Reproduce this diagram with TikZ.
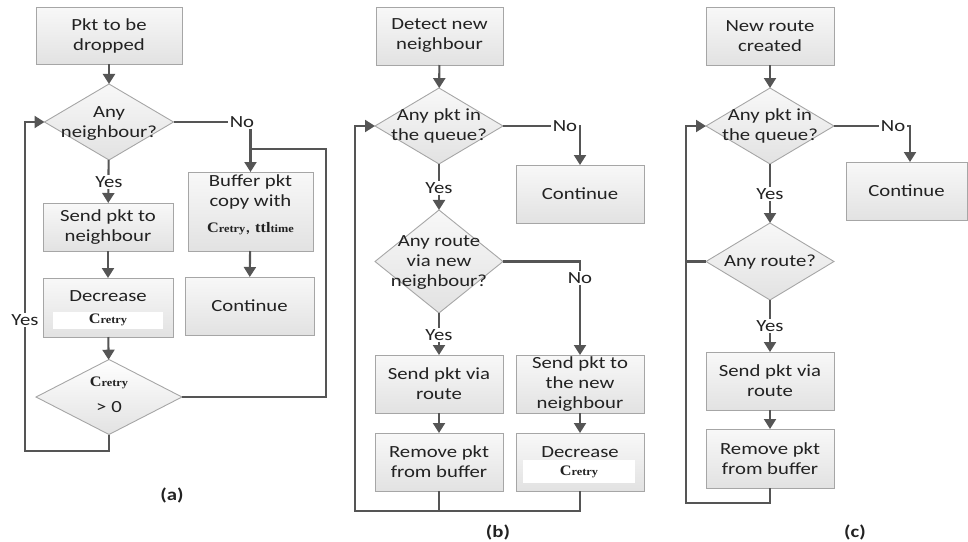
\documentclass[tikz,border=0pt]{standalone}
\usepackage{fontspec}
\setmainfont{Carlito}[FakeStretch=1.22]
\newfontfamily\crfont{Liberation Serif}[FakeStretch=1.12]
\usetikzlibrary{arrows.meta,shapes.geometric}

\definecolor{boxline}{HTML}{A6A6A6}
\definecolor{boxtop}{HTML}{F8F8F8}
\definecolor{boxbot}{HTML}{E2E2E2}
\definecolor{flowc}{HTML}{555555}
\definecolor{txtc}{HTML}{222222}

% C_retry and ttl_time in the bold serif face
\newcommand\Cr{{\crfont\bfseries{\fontsize{14.5}{14.5}\selectfont C}{\fontsize{11}{11}\selectfont retry}}}
\newcommand\TTL{{\crfont\bfseries{\fontsize{14.5}{14.5}\selectfont ttl}{\fontsize{11}{11}\selectfont time}}}
\newcommand\txtfont{\fontsize{17}{20}\selectfont}

\tikzset{
  box/.style={draw=boxline, line width=0.9pt, top color=boxtop, bottom color=boxbot,
    inner sep=0pt, outer sep=0pt, align=center, text=txtc, font=\txtfont},
  dia/.style={diamond, draw=boxline, line width=0.9pt, top color=boxtop, bottom color=boxbot,
    inner sep=0pt, outer sep=0pt},
  txt/.style={align=center, text=txtc, font=\txtfont, inner sep=0pt},
  patch/.style={fill=white, inner sep=0pt, text=txtc},
  conn/.style={draw=flowc, line width=2.1pt},
  flow/.style={conn, -{Triangle[width=12pt,length=10pt]}},
  lbl/.style={fill=white, inner sep=1.5pt, text=txtc, font=\txtfont},
  subcap/.style={text=txtc, font=\txtfont\bfseries}
}

\begin{document}
\begin{tikzpicture}[x=1pt,y=-1pt]
\useasboundingbox (0,0) rectangle (968,541);

% ---------------- (a) packet about to be dropped ----------------
\node[box, minimum width=146pt, minimum height=57pt] (a1) at (109,35.5) {Pkt to be\\dropped};
\node[dia, minimum width=129pt, minimum height=76pt] (a2) at (109,122) {};
\node[txt] (a2t) at (109,124) {Any\\neighbour?};
\node[box, minimum width=130pt, minimum height=48pt] (a3) at (108,227) {Send pkt to\\neighbour};
\node[box, minimum width=130pt, minimum height=59pt] (a4) at (108,307.5) {};
\node[txt] (a4t) at (108,296) {Decrease};
\node[patch, minimum width=110pt, minimum height=17pt] (a4c) at (108,320) {\Cr};
\node[dia, minimum width=146pt, minimum height=75pt, top color=white] (a6) at (109,397) {};
\node[txt] (a6c) at (109,383) {\Cr};
\node[txt] (a6t) at (109,407) {> 0};
\node[box, minimum width=125pt, minimum height=79pt] (a7) at (250.5,211.5) {};
\node[txt] (a7t) at (250.5,192) {Buffer pkt\\copy with};
\node[txt] (a7c) at (250.5,229) {\Cr, \TTL};
\node[box, minimum width=129pt, minimum height=58pt] (a8) at (249.5,306) {Continue};
\node[subcap] (acap) at (172,495) {(a)};

\coordinate (aR) at (326,149);
\coordinate (aJ) at (250,149);
\coordinate (aL) at (25,451);

\draw[flow] (a1) -- (a2);
\draw[flow] (a2) -- (a3);
\draw[flow] (a3) -- (a4);
\draw[flow] (a4) -- (a6);
\draw[flow] (a2.east) -| (a7.north);
\draw[flow] (a7) -- (a8);
\draw[conn] (a6.east) -| (aR) -- (aJ);
\draw[flow] (a6.south) |- (aL) |- (a2.west);
\node[lbl] (aNo) at (242,122) {No};
\node[lbl] (aYes) at (109,182) {Yes};
\node[lbl] (aYes2) at (25,320) {Yes};

% ---------------- (b) new neighbour detected ----------------
\node[box, minimum width=127pt, minimum height=58pt] (b1) at (439.5,36) {Detect new\\neighbour};
\node[dia, minimum width=128pt, minimum height=76pt] (b2) at (439,126) {};
\node[txt] (b2t) at (439,126) {Any pkt in\\the queue?};
\node[box, minimum width=128pt, minimum height=58pt] (b3) at (580,194) {Continue};
\node[dia, minimum width=128pt, minimum height=103pt] (b4) at (439,261.5) {};
\node[txt] (b4t) at (439,263) {Any route\\via new\\neighbour?};
\node[box, minimum width=128pt, minimum height=58pt] (b5) at (439,384) {Send pkt via\\route};
\node[box, minimum width=128pt, minimum height=58pt] (b6) at (580,384) {Send pkt to\\the new\\neighbour};
\node[box, minimum width=128pt, minimum height=58pt] (b7) at (439,462) {Remove pkt\\from buffer};
\node[box, minimum width=128pt, minimum height=58pt] (b8) at (580,462) {};
\node[txt] (b8t) at (580,452) {Decrease};
\node[patch, minimum width=112pt, minimum height=23pt] (b8c) at (579,471.5) {\Cr};
\node[subcap] (bcap) at (498,532) {(b)};

\coordinate (bL) at (355,511);
\coordinate (bM) at (439,511);

\draw[flow] (b1) -- (b2);
\draw[flow] (b2) -- (b4);
\draw[flow] (b2.east) -| (b3.north);
\draw[flow] (b4.east) -| (b6.north);
\draw[flow] (b4) -- (b5);
\draw[flow] (b5) -- (b7);
\draw[flow] (b6) -- (b8);
\draw[conn] (b7.south) -- (bM);
\draw[flow] (b8.south) |- (bL) |- (b2.west);
\node[lbl] (bNo) at (565,126) {No};
\node[lbl] (bNo2) at (580,278) {No};
\node[lbl] (bYes) at (439,188) {Yes};
\node[lbl] (bYes2) at (439,335) {Yes};

% ---------------- (c) new route created ----------------
\node[box, minimum width=128pt, minimum height=58pt] (c1) at (770,36) {New route\\created};
\node[dia, minimum width=128pt, minimum height=76pt] (c2) at (770,126) {};
\node[txt] (c2t) at (770,126) {Any pkt in\\the queue?};
\node[box, minimum width=121pt, minimum height=58pt] (c3) at (906.5,191) {Continue};
\node[dia, minimum width=128pt, minimum height=77pt] (c4) at (770,261.5) {};
\node[txt] (c4t) at (770,262) {Any route?};
\node[box, minimum width=128pt, minimum height=58pt] (c5) at (770,381) {Send pkt via\\route};
\node[box, minimum width=128pt, minimum height=59pt] (c6) at (770,458.5) {Remove pkt\\from buffer};
\node[subcap] (ccap) at (855,532) {(c)};

\coordinate (cT) at (910,126);
\coordinate (cL) at (686,503);

\draw[flow] (c1) -- (c2);
\draw[flow] (c2) -- (c4);
\draw[flow] (c2.east) -- (cT) -- (cT |- c3.north);
\draw[flow] (c4) -- (c5);
\draw[flow] (c5) -- (c6);
\draw[conn] (c4.west) -- (c4.west -| cL);
\draw[flow] (c6.south) |- (cL) |- (c2.west);
\node[lbl] (cNo) at (893,126) {No};
\node[lbl] (cYes) at (770,194) {Yes};
\node[lbl] (cYes2) at (770,326) {Yes};
\end{tikzpicture}
\end{document}
